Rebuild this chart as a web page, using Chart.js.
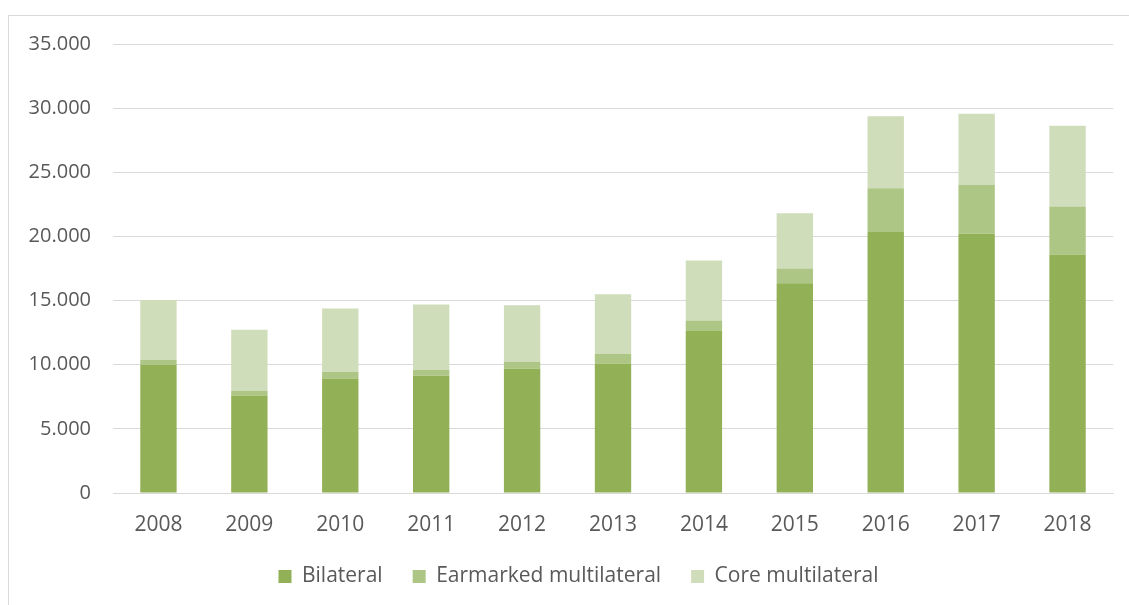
<!DOCTYPE html>
<html>
<head>
<meta charset="utf-8">
<script src="https://cdn.jsdelivr.net/npm/chart.js@4/dist/chart.umd.min.js"></script>
<style>
    html, body { margin: 0; padding: 0; background: #fff; overflow: hidden; }
    #wrap { position: absolute; left: 0; top: 0; width: 1129px; height: 605px; }
    #frame { position: absolute; left: 8px; top: 15px; width: 1300px; height: 800px; border: 1px solid #d9d9d9; }
</style>
</head>
<body>
<div id="frame"></div>
<div id="wrap"><canvas id="aidChart" width="1129" height="605"></canvas></div>
<script>
// Data
const years = ["2008", "2009", "2010", "2011", "2012", "2013", "2014", "2015", "2016", "2017", "2018"];
const bilateral = [10000, 7600, 8930, 9140, 9690, 10100, 12630, 16350, 20340, 20210, 18590];
const earmarked = [390, 370, 520, 470, 540, 760, 810, 1150, 3410, 3800, 3750];
const core = [4660, 4760, 4925, 5080, 4405, 4635, 4685, 4300, 5625, 5550, 6280];

const fontFamily = "'Open Sans', sans-serif";
const textColor = '#595959';

// Nudge the legend a bit to the right, like the original
const legendShift = {
    id: 'legendShift',
    afterLayout(chart) {
        chart.legend.left += 22;
        chart.legend.right += 22;
    }
};

const ctx = document.getElementById("aidChart").getContext("2d");
const aidChart = new Chart(ctx, {
    type: "bar",
    data: {
        labels: years,
        datasets: [
            { label: "Bilateral", data: bilateral, backgroundColor: '#92b056' },
            { label: "Earmarked multilateral", data: earmarked, backgroundColor: '#adc685' },
            { label: "Core multilateral", data: core, backgroundColor: '#d0ddba' }
        ]
    },
    options: {
        responsive: false,
        animation: false,
        barPercentage: 0.4,
        categoryPercentage: 1,
        layout: {
            padding: { top: 44, right: 16, left: 0, bottom: 8 }
        },
        plugins: {
            legend: {
                position: 'bottom',
                labels: {
                    boxWidth: 13,
                    boxHeight: 13,
                    padding: 30,
                    color: textColor,
                    font: { family: fontFamily, size: 21 }
                }
            },
            tooltip: { enabled: false }
        },
        scales: {
            x: {
                stacked: true,
                afterFit: (scale) => { scale.height = 43; },
                grid: { display: false, drawTicks: false },
                border: { color: '#d9d9d9', width: 1 },
                ticks: {
                    padding: 19,
                    color: textColor,
                    font: { family: fontFamily, size: 21 }
                }
            },
            y: {
                stacked: true,
                min: 0,
                max: 35000,
                afterFit: (scale) => { scale.width = 113; },
                grid: { color: '#d9d9d9', lineWidth: 1, drawTicks: false },
                border: { display: false },
                ticks: {
                    stepSize: 5000,
                    padding: 22,
                    color: textColor,
                    font: { family: fontFamily, size: 20 },
                    callback: (v) => v.toLocaleString('de-DE')
                }
            }
        }
    },
    plugins: [legendShift]
});
</script>
</body>
</html>
